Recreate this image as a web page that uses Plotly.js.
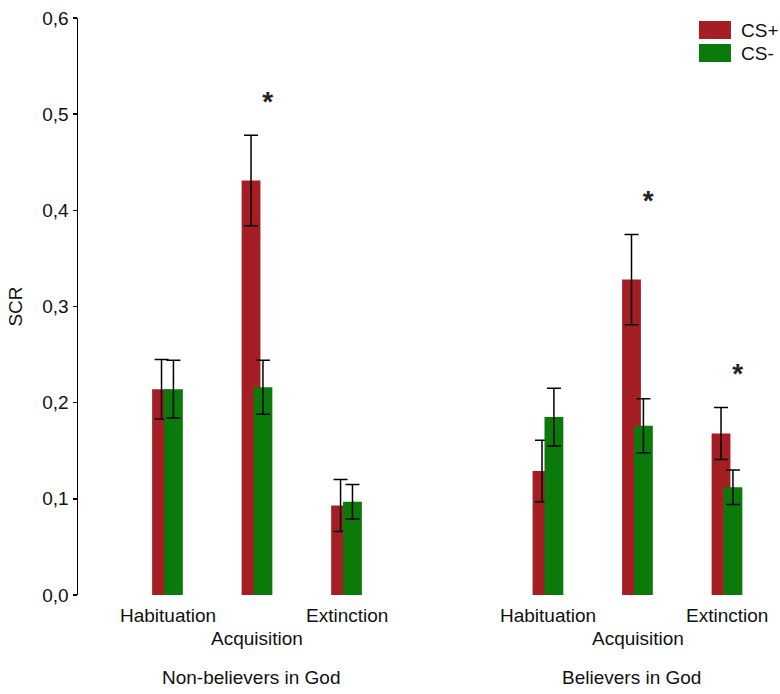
<!DOCTYPE html>
<html>
<head>
<meta charset="utf-8">
<script src="https://cdn.plot.ly/plotly-3.0.1.min.js"></script>
<style>html,body{margin:0;padding:0;background:#fff;}#chart{width:780px;height:694px;}</style>
</head>
<body>
<div id="chart"></div>
<script>
// ---- data ----
var phases = ['Habituation', 'Acquisition', 'Extinction'];
var groups = ['Non-believers in God', 'Believers in God'];
var seriesNames = ['CS+', 'CS-'];
// values listed per group: [Habituation, Acquisition, Extinction]
var csPlusNonBelievers = [0.214, 0.431, 0.093];
var csPlusBelievers    = [0.129, 0.328, 0.168];
var csMinusNonBelievers = [0.214, 0.216, 0.097];
var csMinusBelievers    = [0.185, 0.176, 0.112];
var csPlusErrNonBelievers = [0.031, 0.047, 0.027];
var csPlusErrBelievers    = [0.032, 0.047, 0.027];
var csMinusErrNonBelievers = [0.030, 0.028, 0.018];
var csMinusErrBelievers    = [0.030, 0.028, 0.018];
// significant CS+ vs CS- differences (true = asterisk)
var sigNonBelievers = [false, true, false];
var sigBelievers    = [false, true, true];

// ---- layout constants ----
var GROUP_STEP = 4.25;
var FONT = 'Liberation Sans, Arial, sans-serif';
var RED = '#A51E23';
var GREEN = '#0B7A0B';
var BAR_W = 0.21;
var STAR_DX = 0.12;
var STAR_DY = 0.033;

var x = [], plusY = [], minusY = [], plusE = [], minusE = [];
var starX = [], starY = [], starT = [];
var valsPlus = [csPlusNonBelievers, csPlusBelievers];
var valsMinus = [csMinusNonBelievers, csMinusBelievers];
var errPlus = [csPlusErrNonBelievers, csPlusErrBelievers];
var errMinus = [csMinusErrNonBelievers, csMinusErrBelievers];
var sigs = [sigNonBelievers, sigBelievers];
var annotations = [];

for (var g = 0; g < groups.length; g++) {
  for (var i = 0; i < phases.length; i++) {
    var pos = g * GROUP_STEP + i;
    x.push(pos);
    plusY.push(valsPlus[g][i]);
    minusY.push(valsMinus[g][i]);
    plusE.push(errPlus[g][i]);
    minusE.push(errMinus[g][i]);
    annotations.push({
      x: pos, y: 0, xref: 'x', yref: 'paper', text: phases[i], showarrow: false,
      xanchor: 'center', yanchor: 'middle', yshift: (i === 1 ? -43 : -20),
      font: {family: FONT, size: 19, color: '#111'}
    });
    if (sigs[g][i]) {
      var barTop = Math.max(valsPlus[g][i] + errPlus[g][i], valsMinus[g][i] + errMinus[g][i]);
      starX.push(pos + STAR_DX);
      starY.push(barTop + STAR_DY);
      starT.push('<b>*</b>');
    }
  }
  annotations.push({
    x: g * GROUP_STEP + 1, y: 0, xref: 'x', yref: 'paper', text: groups[g], showarrow: false,
    xanchor: 'center', yanchor: 'middle', yshift: -82, xshift: -6,
    font: {family: FONT, size: 19, color: '#111'}
  });
}

// legend drawn as boxes + labels
var shapes = [
  {type: 'rect', xref: 'paper', yref: 'paper', x0: 0.8974, x1: 0.9436, y0: 0.9636, y1: 0.9948, fillcolor: RED, line: {width: 0}},
  {type: 'rect', xref: 'paper', yref: 'paper', x0: 0.8974, x1: 0.9436, y0: 0.9237, y1: 0.9549, fillcolor: GREEN, line: {width: 0}}
];
annotations.push({x: 0.9552, y: 0.979, xref: 'paper', yref: 'paper', text: seriesNames[0], showarrow: false, xanchor: 'left', yanchor: 'middle', font: {family: FONT, size: 19, color: '#111'}});
annotations.push({x: 0.9552, y: 0.939, xref: 'paper', yref: 'paper', text: seriesNames[1], showarrow: false, xanchor: 'left', yanchor: 'middle', font: {family: FONT, size: 19, color: '#111'}});

var errStyle = {type: 'data', visible: true, color: '#000', thickness: 1.5, width: 7};

var traces = [
  {type: 'bar', name: seriesNames[0], x: x, y: plusY, width: BAR_W, offset: -0.172,
   marker: {color: RED, line: {width: 0}},
   error_y: Object.assign({array: plusE}, errStyle), showlegend: false, hoverinfo: 'skip'},
  {type: 'bar', name: seriesNames[1], x: x, y: minusY, width: BAR_W, offset: -0.039,
   marker: {color: GREEN, line: {width: 0}},
   error_y: Object.assign({array: minusE}, errStyle), showlegend: false, hoverinfo: 'skip'},
  {type: 'scatter', mode: 'text', x: starX, y: starY, text: starT, textposition: 'middle center',
   textfont: {family: FONT, size: 28, color: '#222'}, showlegend: false, hoverinfo: 'skip', cliponaxis: false}
];

var layout = {
  width: 780, height: 694,
  margin: {l: 78, r: 10, t: 18, b: 99, pad: 0},
  paper_bgcolor: '#fff', plot_bgcolor: '#fff',
  barmode: 'overlay',
  separators: ',.',
  showlegend: false,
  font: {family: FONT, size: 19, color: '#111'},
  xaxis: {range: [-1, 6.73], showgrid: false, zeroline: false, showline: false,
          showticklabels: false, ticks: '', fixedrange: true},
  yaxis: {range: [0, 0.6], tickvals: [0, 0.1, 0.2, 0.3, 0.4, 0.5, 0.6], tickformat: '.1f',
          showgrid: false, zeroline: false, showline: true, linecolor: '#000', linewidth: 1.5,
          ticks: 'outside', ticklen: 4, tickcolor: '#000', tickwidth: 1.5,
          tickfont: {family: FONT, size: 19, color: '#111'},
          title: {text: 'SCR', font: {family: FONT, size: 19, color: '#111'}, standoff: 14},
          fixedrange: true},
  shapes: shapes,
  annotations: annotations
};

Plotly.newPlot('chart', traces, layout, {displayModeBar: false, staticPlot: true});
</script>
</body>
</html>
